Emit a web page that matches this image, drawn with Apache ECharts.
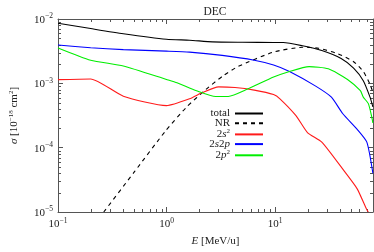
<!DOCTYPE html>
<html><head><meta charset="utf-8">
<script src="https://cdn.jsdelivr.net/npm/echarts@6/dist/echarts.min.js"></script>
<style>html,body{margin:0;padding:0;background:#fff}#c{width:374px;height:252px}</style>
</head><body><div id="c"></div>
<script>
// ---- data ----
const totalE = [0.1, 0.2, 0.4, 1.0, 1.63, 2.65, 5.0, 9.7, 11.9, 17.9, 27.0, 40.7, 53.0, 65.1, 75.1, 79.8];
const totalS = [8.6e-3, 7.1e-3, 5.9e-3, 4.84e-3, 4.68e-3, 4.41e-3, 4.35e-3, 4.32e-3, 4.32e-3, 3.84e-3, 3.23e-3, 2.43e-3, 1.72e-3, 1.10e-3, 6.1e-4, 4.3e-4];

const nrE = [0.264, 0.509, 0.98, 1.54, 2.31, 3.3, 4.55, 9.7, 17.9, 25.2, 38.0, 53.0, 65.1, 75.1, 79.8];
const nrS = [1e-5, 4.27e-5, 1.82e-4, 4.32e-4, 8.04e-4, 1.3e-3, 1.82e-3, 3.06e-3, 3.63e-3, 3.51e-3, 2.88e-3, 2.17e-3, 1.53e-3, 9.65e-4, 7.24e-4];

const s2E = [0.1, 0.2, 0.4, 1.0, 1.63, 2.16, 3.02, 4.28, 6.44, 9.7, 11.1, 15.6, 19.9, 27.0, 43.5, 57.2, 70.2, 72.5];
const s2S = [1.14e-3, 1.17e-3, 6.31e-4, 4.51e-4, 5.75e-4, 7.24e-4, 8.82e-4, 8.61e-4, 7.84e-4, 6.69e-4, 5.75e-4, 3.15e-4, 1.72e-4, 1.22e-4, 4.31e-5, 2.29e-5, 1.08e-5, 1e-5];

const s2pE = [0.1, 0.2, 0.4, 1.0, 1.63, 3.26, 6.44, 9.7, 13.6, 23.5, 33.1, 42.0, 57.2, 70.2, 79.8];
const s2pS = [3.94e-3, 3.58e-3, 3.34e-3, 3.17e-3, 3.06e-3, 2.72e-3, 2.29e-3, 1.93e-3, 1.53e-3, 9.13e-4, 6.1e-4, 3.4e-4, 1.93e-4, 1.22e-4, 4.0e-5];

const p2E = [0.1, 0.2, 0.4, 1.0, 1.25, 1.89, 2.84, 3.71, 5.58, 9.7, 13.6, 20.6, 31.0, 46.6, 61.2, 65.1, 72.5, 77.8, 79.8];
const p2S = [3.55e-3, 2.29e-3, 1.86e-3, 1.15e-3, 1.02e-3, 7.68e-4, 6.25e-4, 6.25e-4, 8.13e-4, 1.25e-3, 1.53e-3, 1.82e-3, 1.68e-3, 1.15e-3, 7.68e-4, 6.1e-4, 4.84e-4, 3.05e-4, 2.42e-4];

const xMinorTicks = [0.2,0.3,0.4,0.5,0.6,0.7,0.8,0.9,2,3,4,5,6,7,8,9,20,30,40,50,60,70];
const yMinorTicks = [2e-5,3e-5,4e-5,5e-5,6e-5,7e-5,8e-5,9e-5,2e-4,3e-4,4e-4,5e-4,6e-4,7e-4,8e-4,9e-4,2e-3,3e-3,4e-3,5e-3,6e-3,7e-3,8e-3,9e-3];

const X_MIN = 0.1, X_MAX = 80, Y_MIN = 1e-5, Y_MAX = 1e-2;

const zip = (a, b) => a.map((v, i) => [v, b[i]]);
const FONT = 'Liberation Serif';
const AX = '#555';

function expLabel(v) {
  const e = Math.round(Math.log10(v));
  return '{b|10}{s|' + (e < 0 ? '\u2212' + (-e) : e) + '}';
}
const labelRich = {
  b: {fontFamily: FONT, fontSize: 11, color: '#222', verticalAlign: 'bottom'},
  s: {fontFamily: FONT, fontSize: 7.5, color: '#222', verticalAlign: 'bottom', padding: [0, 0, 5, 0]}
};

function mkLine(name, e, s, color, dashed) {
  return {
    name, type: 'line', data: zip(e, s), symbol: 'none', smooth: 0.2,
    lineStyle: {color, width: 1.1, type: dashed ? [4, 4] : 'solid'},
    itemStyle: {color}, clip: true, z: 3
  };
}

const tickStyle = {stroke: AX, lineWidth: 1};
const chart = echarts.init(document.getElementById('c'), null, {renderer: 'canvas'});
chart.setOption({
  animation: false,
  backgroundColor: '#fff',
  title: {text: 'DEC', left: 210, top: 1, textAlign: 'center',
    textStyle: {fontFamily: FONT, fontSize: 11.5, fontWeight: 'normal', color: '#222'}},
  grid: {left: 46.5, right: 1, top: 19, bottom: 33},
  legend: {
    orient: 'vertical', align: 'right', right: 105, top: 103,
    itemWidth: 28, itemHeight: 6, itemGap: -1.3, padding: 5,
    itemStyle: {opacity: 0},
    data: ['total', 'NR', '2s²', '2s2p', '2p²'],
    formatter: function (n) {
      return {'total': 'total', 'NR': 'NR', '2s²': '2{i|s}{sup|2}', '2s2p': '2{i|s}2{i|p}', '2p²': '2{i|p}{sup|2}'}[n];
    },
    textStyle: {fontFamily: FONT, fontSize: 11, color: '#222', lineHeight: 10,
      rich: {
        i: {fontFamily: FONT, fontSize: 11, fontStyle: 'italic', color: '#222', lineHeight: 10},
        sup: {fontFamily: FONT, fontSize: 7, color: '#222', verticalAlign: 'bottom', lineHeight: 5, padding: [0, 0, 5, 0]}
      }}
  },
  xAxis: [{
    type: 'log', logBase: 10, min: X_MIN, max: X_MAX, position: 'bottom',
    name: '{i|E} [MeV/u]', nameLocation: 'middle', nameGap: 24,
    nameTextStyle: {fontFamily: FONT, fontSize: 11, color: '#222',
      rich: {i: {fontFamily: FONT, fontSize: 11, fontStyle: 'italic', color: '#222'}}},
    axisLine: {show: true, lineStyle: {color: AX, width: 1}},
    axisTick: {show: true, inside: true, length: 5, lineStyle: {color: AX}},
    axisLabel: {formatter: expLabel, rich: labelRich, margin: 5, showMaxLabel: false},
    splitLine: {show: false}
  }, {
    type: 'log', logBase: 10, min: X_MIN, max: X_MAX, position: 'top',
    axisLine: {show: true, lineStyle: {color: AX, width: 1}},
    axisTick: {show: true, inside: true, length: 5, lineStyle: {color: AX}},
    axisLabel: {show: false}, splitLine: {show: false}
  }],
  yAxis: [{
    type: 'log', logBase: 10, min: Y_MIN, max: Y_MAX, position: 'left',
    name: '{i|σ} [10{s|\u221218} cm{s|2}]', nameLocation: 'middle', nameGap: 38, nameRotate: 90,
    nameTextStyle: {fontFamily: FONT, fontSize: 11, color: '#222',
      rich: {
        i: {fontFamily: FONT, fontSize: 11, fontStyle: 'italic', color: '#222', verticalAlign: 'bottom'},
        s: {fontFamily: FONT, fontSize: 7, color: '#222', verticalAlign: 'bottom', padding: [0, 0, 5, 0]}
      }},
    axisLine: {show: true, lineStyle: {color: AX, width: 1}},
    axisTick: {show: true, inside: true, length: 5, lineStyle: {color: AX}},
    axisLabel: {formatter: expLabel, rich: labelRich, margin: 5},
    splitLine: {show: false}
  }, {
    type: 'log', logBase: 10, min: Y_MIN, max: Y_MAX, position: 'right',
    axisLine: {show: true, lineStyle: {color: AX, width: 1}},
    axisTick: {show: true, inside: true, length: 5, lineStyle: {color: AX}},
    axisLabel: {show: false}, splitLine: {show: false}
  }],
  series: [
    mkLine('total', totalE, totalS, '#000000', false),
    mkLine('NR', nrE, nrS, '#000000', true),
    mkLine('2s²', s2E, s2S, '#ff1a1a', false),
    mkLine('2s2p', s2pE, s2pS, '#0000ff', false),
    mkLine('2p²', p2E, p2S, '#00ee00', false),
    {
      type: 'custom', silent: true, clip: false, z: 2,
      data: xMinorTicks.map(v => [v, Y_MIN]),
      renderItem: function (params, api) {
        const b = api.coord([api.value(0), Y_MIN]);
        const t = api.coord([api.value(0), Y_MAX]);
        const x = Math.round(b[0]) + 0.5;
        return {type: 'group', children: [
          {type: 'line', shape: {x1: x, y1: b[1], x2: x, y2: b[1] - 3}, style: tickStyle},
          {type: 'line', shape: {x1: x, y1: t[1], x2: x, y2: t[1] + 3}, style: tickStyle}
        ]};
      }
    },
    {
      type: 'custom', silent: true, clip: false, z: 2,
      data: yMinorTicks.map(v => [X_MIN, v]),
      renderItem: function (params, api) {
        const l = api.coord([X_MIN, api.value(1)]);
        const r = api.coord([X_MAX, api.value(1)]);
        const y = Math.round(l[1]) + 0.5;
        return {type: 'group', children: [
          {type: 'line', shape: {x1: l[0], y1: y, x2: l[0] + 3, y2: y}, style: tickStyle},
          {type: 'line', shape: {x1: r[0], y1: y, x2: r[0] - 3, y2: y}, style: tickStyle}
        ]};
      }
    }
  ]
});
</script>
</body></html>
